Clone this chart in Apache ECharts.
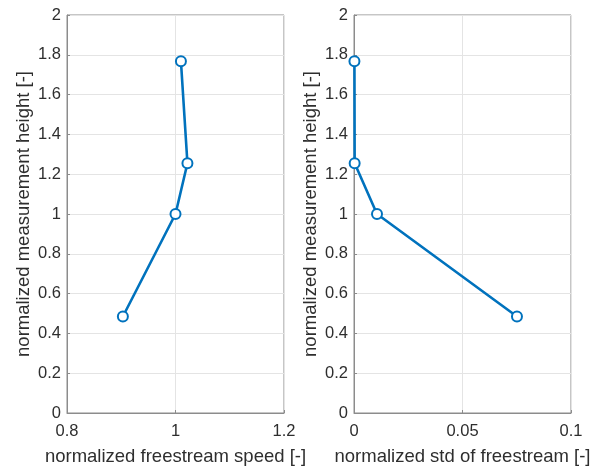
<!DOCTYPE html>
<html>
<head>
<meta charset="utf-8">
<script src="https://cdn.jsdelivr.net/npm/echarts@6/dist/echarts.min.js"></script>
<style>
  html, body { margin: 0; padding: 0; background: #fff; }
  #chart { width: 594px; height: 471px; }
</style>
</head>
<body>
<div id="chart"></div>
<script>
// Measurement heights (normalized) shared by both profiles
const heights = [0.485, 1.0, 1.255, 1.768];
// Normalized freestream speed at each height
const speed = [0.903, 1.0, 1.022, 1.010];
// Normalized standard deviation of the freestream at each height
const stdFreestream = [0.0751, 0.0106, 0.0003, 0.0002];

const xLabelLeft = 'normalized freestream speed [-]';
const xLabelRight = 'normalized std of freestream [-]';
const yLabel = 'normalized measurement height [-]';

const FONT = '"Liberation Sans", Arial, Helvetica, sans-serif';
const TEXT = '#2e2e2e';
const AXIS = '#8c8c8c';
const GRID = '#e4e4e4';
const BLUE = '#0072BD';

function pairs(xs, ys) {
  return xs.map((x, i) => [x, ys[i]]);
}

function xAxis(gridIndex, min, max, interval, name) {
  return {
    type: 'value', gridIndex, min, max, interval,
    name, nameLocation: 'middle', nameGap: 34,
    nameTextStyle: { fontFamily: FONT, fontSize: 18.5, color: TEXT },
    axisLine: { show: true, lineStyle: { color: AXIS, width: 1 } },
    axisTick: { show: true, inside: true, length: 3, lineStyle: { color: AXIS } },
    axisLabel: { fontFamily: FONT, fontSize: 16.5, color: TEXT, margin: 10 },
    splitLine: { show: true, lineStyle: { color: GRID, width: 1 } }
  };
}

function yAxis(gridIndex) {
  return {
    type: 'value', gridIndex, min: 0, max: 2, interval: 0.2,
    name: yLabel, nameLocation: 'middle', nameGap: 34,
    nameTextStyle: { fontFamily: FONT, fontSize: 18.5, color: TEXT },
    axisLine: { show: true, lineStyle: { color: AXIS, width: 1 } },
    axisTick: { show: true, inside: true, length: 3, lineStyle: { color: AXIS } },
    axisLabel: { fontFamily: FONT, fontSize: 16.5, color: TEXT, margin: 6 },
    splitLine: { show: true, lineStyle: { color: GRID, width: 1 } }
  };
}

function profile(xAxisIndex, yAxisIndex, data) {
  return {
    type: 'line', xAxisIndex, yAxisIndex, data,
    symbol: 'emptyCircle', symbolSize: 10,
    lineStyle: { color: BLUE, width: 2.6 },
    itemStyle: { color: BLUE, borderColor: BLUE, borderWidth: 2.8 },
    silent: true, animation: false
  };
}

const chart = echarts.init(document.getElementById('chart'), null, { renderer: 'canvas' });
chart.setOption({
  backgroundColor: '#ffffff',
  animation: false,
  grid: [
    { left: 67, top: 15, width: 217, height: 398, show: true, borderColor: AXIS, borderWidth: 1 },
    { left: 354, top: 15, width: 217, height: 398, show: true, borderColor: AXIS, borderWidth: 1 }
  ],
  xAxis: [
    xAxis(0, 0.8, 1.2, 0.2, xLabelLeft),
    xAxis(1, 0, 0.1, 0.05, xLabelRight)
  ],
  yAxis: [yAxis(0), yAxis(1)],
  series: [
    profile(0, 0, pairs(speed, heights)),
    profile(1, 1, pairs(stdFreestream, heights))
  ]
});
</script>
</body>
</html>
